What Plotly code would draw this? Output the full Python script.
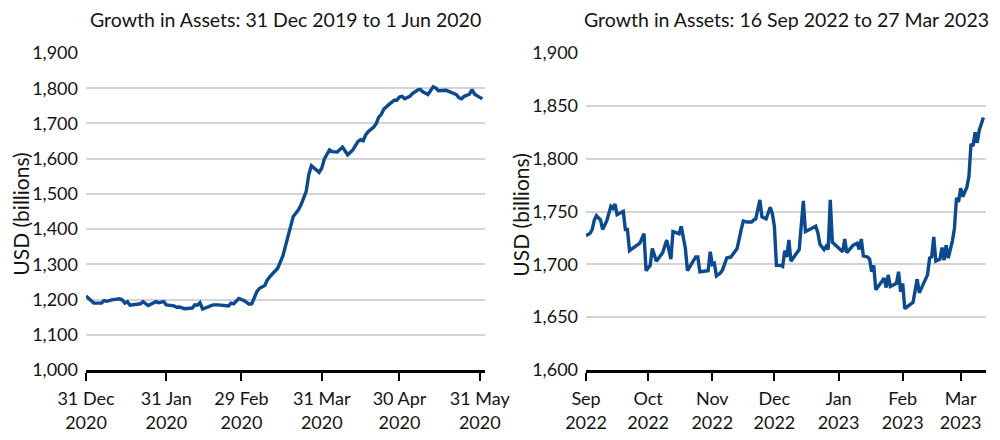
import plotly.graph_objects as go

# ---- Left panel data: 31 Dec 2019 to 1 Jun 2020 (USD billions) ----
left_dates = [
    "2019-12-31", "2020-01-02", "2020-01-03", "2020-01-06", "2020-01-07", "2020-01-08",
    "2020-01-10", "2020-01-13", "2020-01-14", "2020-01-15", "2020-01-16", "2020-01-17",
    "2020-01-21", "2020-01-22", "2020-01-24", "2020-01-27", "2020-01-28", "2020-01-30",
    "2020-01-31", "2020-02-03", "2020-02-04", "2020-02-05", "2020-02-07", "2020-02-10",
    "2020-02-11", "2020-02-12", "2020-02-13", "2020-02-14", "2020-02-18", "2020-02-20",
    "2020-02-24", "2020-02-25", "2020-02-26", "2020-02-28", "2020-03-01", "2020-03-03",
    "2020-03-04", "2020-03-06", "2020-03-07", "2020-03-09", "2020-03-10", "2020-03-11",
    "2020-03-13", "2020-03-14", "2020-03-16", "2020-03-17", "2020-03-18", "2020-03-19",
    "2020-03-20", "2020-03-22", "2020-03-23", "2020-03-25", "2020-03-26", "2020-03-27",
    "2020-03-28", "2020-03-30", "2020-03-31", "2020-04-01", "2020-04-03", "2020-04-04",
    "2020-04-06", "2020-04-08", "2020-04-10", "2020-04-12", "2020-04-14", "2020-04-15",
    "2020-04-16", "2020-04-17", "2020-04-18", "2020-04-20", "2020-04-21", "2020-04-22",
    "2020-04-23", "2020-04-24", "2020-04-26", "2020-04-28", "2020-04-29", "2020-04-30",
    "2020-05-01", "2020-05-02", "2020-05-04", "2020-05-05", "2020-05-07", "2020-05-08",
    "2020-05-09", "2020-05-11", "2020-05-13", "2020-05-14", "2020-05-15", "2020-05-17",
    "2020-05-18", "2020-05-21", "2020-05-22", "2020-05-23", "2020-05-24", "2020-05-25",
    "2020-05-27", "2020-05-28", "2020-05-29", "2020-05-31", "2020-06-01",
]
left_values = [
    1210, 1197, 1190, 1190, 1197, 1195,
    1199, 1202, 1199, 1190, 1194, 1184,
    1188, 1194, 1183, 1194, 1191, 1194,
    1185, 1182, 1178, 1179, 1174, 1176,
    1185, 1184, 1191, 1173, 1185, 1185,
    1182, 1190, 1188, 1203, 1197, 1187,
    1188, 1223, 1232, 1240, 1256, 1265,
    1282, 1289, 1324, 1353, 1379, 1408,
    1436, 1455, 1469, 1507, 1555, 1580,
    1574, 1561, 1573, 1599, 1625, 1620,
    1619, 1633, 1611, 1625, 1649, 1654,
    1651, 1668, 1677, 1689, 1699, 1718,
    1726, 1741, 1754, 1766, 1766, 1775,
    1777, 1770, 1777, 1785, 1795, 1797,
    1790, 1782, 1804, 1801, 1793, 1793,
    1794, 1785, 1782, 1773, 1770, 1777,
    1783, 1796, 1783, 1774, 1770,
]

# ---- Right panel data: 16 Sep 2022 to 27 Mar 2023 (USD billions) ----
right_dates = [
    "2022-09-16", "2022-09-18", "2022-09-19", "2022-09-20", "2022-09-21", "2022-09-23",
    "2022-09-24", "2022-09-26", "2022-09-28", "2022-09-29", "2022-09-30", "2022-10-01",
    "2022-10-02", "2022-10-04", "2022-10-05", "2022-10-06", "2022-10-07", "2022-10-10",
    "2022-10-12", "2022-10-14", "2022-10-15", "2022-10-17", "2022-10-18", "2022-10-20",
    "2022-10-23", "2022-10-25", "2022-10-27", "2022-10-28", "2022-10-31", "2022-11-01",
    "2022-11-03", "2022-11-04", "2022-11-08", "2022-11-09", "2022-11-10", "2022-11-14",
    "2022-11-15", "2022-11-16", "2022-11-17", "2022-11-18", "2022-11-20", "2022-11-21",
    "2022-11-23", "2022-11-25", "2022-11-28", "2022-11-30", "2022-12-01", "2022-12-03",
    "2022-12-05", "2022-12-06", "2022-12-07", "2022-12-09", "2022-12-10", "2022-12-12",
    "2022-12-14", "2022-12-15", "2022-12-16", "2022-12-17", "2022-12-19", "2022-12-20",
    "2022-12-21", "2022-12-22", "2022-12-23", "2022-12-24", "2022-12-25", "2022-12-28",
    "2022-12-30", "2022-12-31", "2023-01-02", "2023-01-05", "2023-01-06", "2023-01-07",
    "2023-01-09", "2023-01-10", "2023-01-11", "2023-01-12", "2023-01-13", "2023-01-16",
    "2023-01-18", "2023-01-19", "2023-01-20", "2023-01-23", "2023-01-25", "2023-01-26",
    "2023-01-27", "2023-01-28", "2023-01-30", "2023-01-31", "2023-02-01", "2023-02-02",
    "2023-02-03", "2023-02-06", "2023-02-07", "2023-02-08", "2023-02-09", "2023-02-10",
    "2023-02-13", "2023-02-14", "2023-02-15", "2023-02-16", "2023-02-17", "2023-02-21",
    "2023-02-23", "2023-02-24", "2023-02-28", "2023-03-01", "2023-03-02", "2023-03-03",
    "2023-03-04", "2023-03-06", "2023-03-07", "2023-03-08", "2023-03-09", "2023-03-10",
    "2023-03-12", "2023-03-13", "2023-03-14", "2023-03-15", "2023-03-16", "2023-03-17",
    "2023-03-19", "2023-03-20", "2023-03-21", "2023-03-22", "2023-03-23", "2023-03-24",
    "2023-03-25", "2023-03-27",
]
right_values = [
    1727, 1729.5, 1733, 1742, 1746, 1742,
    1733, 1741, 1755, 1753, 1757, 1747,
    1748, 1750, 1733, 1733, 1713, 1717,
    1720, 1729, 1694, 1699, 1715, 1703,
    1711, 1723, 1705, 1731, 1729, 1736,
    1715, 1694, 1707, 1707, 1693, 1694,
    1712, 1700, 1701, 1689, 1692, 1695,
    1706, 1707, 1715, 1733, 1741, 1740,
    1740, 1742, 1743, 1761, 1745, 1743,
    1754, 1748, 1736, 1699, 1699, 1698,
    1713, 1707, 1723, 1703, 1706, 1714,
    1760, 1731, 1733, 1736, 1730, 1719,
    1714, 1717, 1714, 1761, 1721, 1716,
    1712, 1724, 1711, 1718, 1720, 1714,
    1724, 1708, 1707, 1705, 1693, 1699,
    1676, 1684, 1687, 1678, 1690, 1679,
    1682, 1693, 1674, 1682, 1658, 1664,
    1686, 1673, 1690, 1706, 1707, 1726,
    1703, 1705, 1716, 1704, 1718, 1706,
    1722, 1734, 1763, 1759, 1772, 1764,
    1773, 1783, 1814, 1812, 1825, 1815,
    1827, 1839,
]

# ---- Axis ticks and labels ----
left_tickvals = ["2019-12-31", "2020-01-31", "2020-02-29", "2020-03-31", "2020-04-30", "2020-05-31"]
left_ticktext = ["31 Dec<br>2020", "31 Jan<br>2020", "29 Feb<br>2020", "31 Mar<br>2020",
                 "30 Apr<br>2020", "31 May<br>2020"]
right_tickvals = ["2022-09-16", "2022-10-16", "2022-11-16", "2022-12-16", "2023-01-16",
                  "2023-02-16", "2023-03-16"]
right_ticktext = ["Sep<br>2022", "Oct<br>2022", "Nov<br>2022", "Dec<br>2022", "Jan<br>2023",
                  "Feb<br>2023", "Mar<br>2023"]
left_yticks = [1000, 1100, 1200, 1300, 1400, 1500, 1600, 1700, 1800, 1900]
right_yticks = [1600, 1650, 1700, 1750, 1800, 1850, 1900]

left_title = "Growth in Assets: 31 Dec 2019 to 1 Jun 2020"
right_title = "Growth in Assets: 16 Sep 2022 to 27 Mar 2023"
y_title = "USD (billions)"

LINE = "#0b4a8f"
GRID = "#d4d4d4"
FONT = "Lato, Roboto, sans-serif"
TXT = "#141414"

fig = go.Figure()
fig.add_trace(go.Scatter(x=left_dates, y=left_values, mode="lines",
                         line=dict(color=LINE, width=3.4), xaxis="x", yaxis="y",
                         showlegend=False, hoverinfo="x+y"))
fig.add_trace(go.Scatter(x=right_dates, y=right_values, mode="lines",
                         line=dict(color=LINE, width=3.4), xaxis="x2", yaxis="y2",
                         showlegend=False, hoverinfo="x+y"))

xcommon = dict(type="date", showgrid=False, showline=True, linecolor="black", linewidth=2.5,
               ticks="outside", tickcolor="black", tickwidth=2, ticklen=8,
               ticklabelstandoff=3, automargin=False,
               tickfont=dict(family=FONT, size=18, color=TXT), zeroline=False)
ycommon = dict(showgrid=True, gridcolor=GRID, gridwidth=1.5, showline=False, ticks="",
               tickfont=dict(family=FONT, size=18, color=TXT), zeroline=False,
               tickformat=",d", ticklabelstandoff=7, automargin=False)

# The page body adds an 8px offset on the top/left, so the figure is sized and
# its margins reduced so that the plot areas land where the reference has them.
fig.update_layout(
    width=992, height=432,
    margin=dict(l=78, r=14, t=45, b=70, autoexpand=False),
    paper_bgcolor="white", plot_bgcolor="white",
    xaxis=dict(xcommon, domain=[0, 0.4433], range=["2019-12-31", "2020-06-02"],
               tickvals=left_tickvals, ticktext=left_ticktext, anchor="y"),
    yaxis=dict(ycommon, range=[1000, 1900], tickvals=left_yticks, anchor="x"),
    xaxis2=dict(xcommon, domain=[0.5556, 1], range=["2022-09-16", "2023-03-28 06:00"],
                tickvals=right_tickvals, ticktext=right_ticktext, anchor="y2"),
    yaxis2=dict(ycommon, range=[1600, 1900], tickvals=right_yticks, anchor="x2"),
    annotations=[
        dict(text=left_title, x=0.2216, y=1, xref="paper", yref="paper", yanchor="bottom",
             xanchor="center", yshift=20, showarrow=False,
             font=dict(family=FONT, size=19.5, color=TXT)),
        dict(text=right_title, x=0.7778, y=1, xref="paper", yref="paper", yanchor="bottom",
             xanchor="center", yshift=20, showarrow=False,
             font=dict(family=FONT, size=19.5, color=TXT)),
        dict(text=y_title, textangle=-90, x=-0.0722, y=0.49, xref="paper", yref="paper",
             xanchor="center", yanchor="middle", showarrow=False,
             font=dict(family=FONT, size=21, color=TXT)),
        dict(text=y_title, textangle=-90, x=0.4833, y=0.49, xref="paper", yref="paper",
             xanchor="center", yanchor="middle", showarrow=False,
             font=dict(family=FONT, size=21, color=TXT)),
    ],
)

fig.write_html("out.html")
